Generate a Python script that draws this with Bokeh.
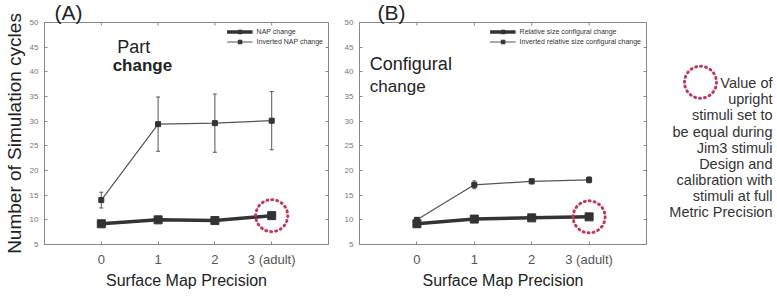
import math
from bokeh.plotting import figure
from bokeh.layouts import row
from bokeh.models import (ColumnDataSource, Whisker, TeeHead, LinearAxis, FixedTicker,
                          Label, Legend, LegendItem, Range1d)
from bokeh.core.properties import value
from bokeh.embed import file_html
from bokeh.resources import INLINE

# ---------------- data ----------------
precision = [0, 1, 2, 3]
precision_labels = ["0", "1", "2", "3 (adult)"]
y_ticks = [5, 10, 15, 20, 25, 30, 35, 40, 45, 50]

# Panel A: part change
nap_change = [9.2, 10.0, 9.85, 10.85]
nap_change_err = [0.4, 0.5, 0.4, 0.6]
inv_nap_change = [14.0, 29.4, 29.6, 30.1]
inv_nap_change_err = [1.6, 5.5, 5.9, 5.9]

# Panel B: configural change
rel_config_change = [9.2, 10.15, 10.4, 10.6]
rel_config_change_err = [0.3, 0.3, 0.3, 0.3]
inv_rel_config_change = [10.0, 17.1, 17.8, 18.1]
inv_rel_config_change_err = [0.4, 0.8, 0.5, 0.6]

# highlighted point (adult, upright)
highlight_x = [3]
highlight_a_y = [10.85]
highlight_b_y = [10.6]

note_lines = ["Value of", "upright", "stimuli set to", "be equal during", "Jim3 stimuli",
              "Design and", "calibration with", "stimuli at full", "Metric Precision"]

FONT = "Liberation Sans"
RED = "#c0395a"


def make_panel(letter, letter_offset, width, left_border, ylabel, s1_name, s1, s1e, s2_name,
               s2, s2e, hl_y, note1, note2, note_x, note2_x, note_y1, note_y2, note_bold):
    p = figure(width=width, height=296, x_range=Range1d(-1, 4), y_range=Range1d(5, 50),
               output_backend="svg", toolbar_location=None, tools="",
               min_border_left=left_border, min_border_right=4, min_border_top=21,
               min_border_bottom=52, title=letter)
    p.title.text_font = FONT
    p.title.text_font_size = "21px"
    p.title.text_font_style = "normal"
    p.title.text_color = "#222222"
    p.title.align = "left"
    p.title.offset = letter_offset
    p.title.standoff = -3

    p.xgrid.visible = False
    p.ygrid.visible = False
    p.outline_line_color = "#888888"
    p.background_fill_color = "white"
    p.border_fill_color = "white"

    xa = p.xaxis[0]
    xa.ticker = FixedTicker(ticks=precision)
    xa.major_label_overrides = {k: v for k, v in zip(precision, precision_labels)}
    xa.major_label_text_font = FONT
    xa.major_label_text_font_size = "13px"
    xa.major_label_text_color = "#555555"
    xa.major_label_standoff = 7
    xa.axis_label = "Surface Map Precision"
    xa.axis_label_text_font = FONT
    xa.axis_label_text_font_size = "16px"
    xa.axis_label_text_font_style = "normal"
    xa.axis_label_text_color = "#222222"
    xa.axis_label_standoff = 2
    xa.major_tick_in = 3
    xa.major_tick_out = 0
    xa.minor_tick_line_color = None
    xa.axis_line_color = "#888888"
    xa.major_tick_line_color = "#888888"

    ya = p.yaxis[0]
    ya.ticker = FixedTicker(ticks=y_ticks)
    ya.major_label_text_font = FONT
    ya.major_label_text_font_size = "8px"
    ya.major_label_text_color = "#777777"
    ya.major_label_standoff = 6
    ya.major_tick_in = 3
    ya.major_tick_out = 0
    ya.minor_tick_line_color = None
    ya.axis_line_color = "#888888"
    ya.major_tick_line_color = "#888888"
    if ylabel:
        ya.axis_label = ylabel
        ya.axis_label_text_font = FONT
        ya.axis_label_text_font_size = "19px"
        ya.axis_label_text_font_style = "normal"
        ya.axis_label_text_color = "#222222"
        ya.axis_label_standoff = 2

    # mirrored ticks on the right (labels not drawn)
    right = LinearAxis(ticker=FixedTicker(ticks=y_ticks), major_label_text_font_size="6px",
                       major_label_text_color=None, major_label_standoff=0,
                       major_tick_in=3, major_tick_out=0, minor_tick_line_color=None,
                       axis_line_color="#888888", major_tick_line_color="#888888")
    p.add_layout(right, "right")
    # mirrored ticks along the top edge
    p.ray(x=precision, y=[p.y_range.end] * len(precision), length=3, length_units="screen",
          angle=-math.pi / 2, line_color="#888888", line_width=1)

    src1 = ColumnDataSource(dict(x=precision, y=s1,
                                 lo=[a - b for a, b in zip(s1, s1e)],
                                 hi=[a + b for a, b in zip(s1, s1e)]))
    src2 = ColumnDataSource(dict(x=precision, y=s2,
                                 lo=[a - b for a, b in zip(s2, s2e)],
                                 hi=[a + b for a, b in zip(s2, s2e)]))

    w2 = Whisker(source=src2, base="x", upper="hi", lower="lo", line_color="#555555",
                 line_width=1,
                 upper_head=TeeHead(size=4, line_color="#555555"),
                 lower_head=TeeHead(size=4, line_color="#555555"))
    w1 = Whisker(source=src1, base="x", upper="hi", lower="lo", line_color="#333333",
                 line_width=1.5,
                 upper_head=TeeHead(size=4, line_color="#333333"),
                 lower_head=TeeHead(size=4, line_color="#333333"))
    p.add_layout(w2)
    p.add_layout(w1)

    l2 = p.line("x", "y", source=src2, line_color="#555555", line_width=1.2)
    m2 = p.scatter("x", "y", source=src2, marker="square", size=5, fill_color="#333333",
                   line_color="#333333")
    l1 = p.line("x", "y", source=src1, line_color="#333333", line_width=3.5)
    m1 = p.scatter("x", "y", source=src1, marker="square", size=8, fill_color="#333333",
                   line_color="#333333")

    p.scatter(x=highlight_x, y=hl_y, marker="circle", size=32, fill_alpha=0,
              line_color=RED, line_width=3, line_dash="1 4", line_cap="round")

    legend = Legend(items=[LegendItem(label=s1_name, renderers=[l1, m1]),
                           LegendItem(label=s2_name, renderers=[l2, m2])],
                    location="top_right", label_text_font=FONT, label_text_font_size="7px",
                    label_text_color="#333333", glyph_width=26, glyph_height=9,
                    label_height=9, label_standoff=4, spacing=1, padding=2, margin=3,
                    border_line_alpha=0, background_fill_alpha=0)
    p.add_layout(legend)

    p.add_layout(Label(x=note_x, y=note_y1, text=note1, text_font=FONT, text_font_size="18px",
                       text_color="#222222", text_baseline="middle", text_align="left"))
    p.add_layout(Label(x=note2_x, y=note_y2, text=note2,
                       text_font=FONT, text_font_size="17px",
                       text_font_style="bold" if note_bold else "normal",
                       text_color="#222222", text_baseline="middle", text_align="left"))
    return p


pa = make_panel("(A)", 10, 332, 42, "Number of Simulation cycles",
                "NAP change", nap_change, nap_change_err,
                "Inverted NAP change", inv_nap_change, inv_nap_change_err,
                highlight_a_y, "Part", "change", 0.28, 0.2, 45.0, 41.3, True)
pb = make_panel("(B)", 18, 318, 27, None,
                "Relative size configural change", rel_config_change, rel_config_change_err,
                "Inverted relative size configural change", inv_rel_config_change,
                inv_rel_config_change_err,
                highlight_b_y, "Configural", "change", -0.82, -0.82, 41.5, 37.1, False)

# annotation panel (pixel-like coordinates, y downward)
pn = figure(width=127, height=296, x_range=Range1d(0, 127), y_range=Range1d(244, 21),
            output_backend="svg", toolbar_location=None, tools="",
            min_border_left=0, min_border_right=0, min_border_top=21,
            min_border_bottom=52)
pn.axis.visible = False
pn.grid.visible = False
pn.outline_line_color = None
pn.text(x=[122] * len(note_lines), y=[82 + 16.2 * i for i in range(len(note_lines))],
        text=note_lines, text_align="right", text_baseline="middle",
        text_font=value(FONT), text_font_size="14.5px", text_color="#333333")
pn.scatter(x=[50], y=[81], marker="circle", size=32, fill_alpha=0, line_color=RED,
           line_width=3, line_dash="1 4", line_cap="round")

layout = row(pa, pb, pn, spacing=0)
open("out.html", "w").write(file_html(layout, INLINE))
